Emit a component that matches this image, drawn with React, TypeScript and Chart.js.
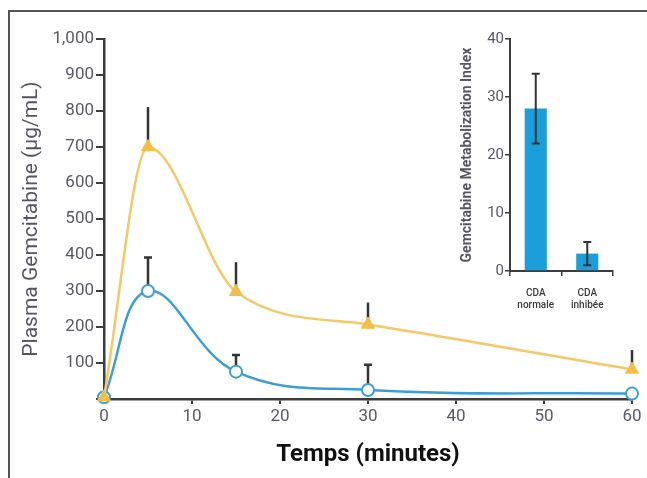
import React, { useEffect, useRef } from 'react';
import { Chart, registerables } from 'chart.js';

Chart.register(...registerables);

// ---- Data (main chart) ----
const times = [0, 5, 15, 30, 60];
const cdaInhibitedValues = [5, 700, 298, 207, 82];
const cdaInhibitedUpper: (number | null)[] = [null, 811, 380, 268, 136];
const cdaNormalValues = [5, 300, 76, 25, 15];
const cdaNormalUpper: (number | null)[] = [null, 393, 122, 95, null];
const xTickStep = 10;
const yTickStep = 100;

// ---- Data (inset) ----
const insetCategories = [['CDA', 'normale'], ['CDA', 'inhibée']];
const insetValues = [28, 3];
const insetLow = [22, 1];
const insetHigh = [34, 5];
const insetTickStep = 10;

const FONT = 'Roboto, "Liberation Sans", Arial, sans-serif';
const AXIS = '#3c3c3c';
const TICK_TEXT = '#585868';
const YELLOW_LINE = '#F6C865';
const YELLOW_MARK = '#F3BE46';
const BLUE = '#3A9EDB';
const BAR_BLUE = '#1A9FDA';
const ERR = '#333333';

function drawErrors(chart: any, front: boolean) {
  const ctx = chart.ctx;
  chart.data.datasets.forEach((ds: any, i: number) => {
    if (!ds.errHigh || !!ds.errFront !== front) return;
    const meta = chart.getDatasetMeta(i);
    const yScale = chart.scales[meta.yAxisID];
    meta.data.forEach((el: any, j: number) => {
      const hi = ds.errHigh[j];
      if (hi == null) return;
      const raw = ds.data[j];
      const v = typeof raw === 'number' ? raw : raw.y;
      const lo = ds.errLow ? ds.errLow[j] : v;
      const x = el.x;
      const yh = yScale.getPixelForValue(hi);
      const yl = yScale.getPixelForValue(lo);
      ctx.save();
      ctx.strokeStyle = ds.errColor || ERR;
      ctx.lineWidth = ds.errWidth || 2.5;
      ctx.lineCap = 'butt';
      ctx.beginPath();
      ctx.moveTo(x, yl);
      ctx.lineTo(x, yh);
      const cap = ds.errCap || 0;
      if (cap > 0) {
        ctx.moveTo(x - cap / 2, yh);
        ctx.lineTo(x + cap / 2, yh);
        if (ds.errLow) {
          ctx.moveTo(x - cap / 2, yl);
          ctx.lineTo(x + cap / 2, yl);
        }
      }
      ctx.stroke();
      ctx.restore();
    });
  });
}

const errorBarPlugin = {
  id: 'errorBars',
  beforeDatasetsDraw(chart: any) {
    drawErrors(chart, false);
  },
  afterDatasetsDraw(chart: any) {
    drawErrors(chart, true);
  },
};

export default function App() {
  const mainRef = useRef<HTMLCanvasElement>(null);
  const insetRef = useRef<HTMLCanvasElement>(null);

  useEffect(() => {
    const main = new Chart(mainRef.current!, {
      type: 'line',
      data: {
        datasets: [
          {
            label: 'CDA inhibée',
            data: times.map((t, i) => ({ x: t, y: cdaInhibitedValues[i] })),
            borderColor: YELLOW_LINE,
            backgroundColor: YELLOW_MARK,
            pointBackgroundColor: YELLOW_MARK,
            pointBorderColor: YELLOW_MARK,
            pointStyle: 'triangle',
            pointRadius: 7.5,
            pointBorderWidth: 1,
            borderWidth: 2.5,
            cubicInterpolationMode: 'monotone',
            clip: false,
            errHigh: cdaInhibitedUpper,
            errCap: 0,
            errWidth: 2.5,
          } as any,
          {
            label: 'CDA normale',
            data: times.map((t, i) => ({ x: t, y: cdaNormalValues[i] })),
            borderColor: BLUE,
            backgroundColor: '#ffffff',
            pointBackgroundColor: '#ffffff',
            pointBorderColor: BLUE,
            pointStyle: 'circle',
            pointRadius: 6,
            pointBorderWidth: 2,
            borderWidth: 2.5,
            tension: 0.4,
            clip: false,
            errHigh: cdaNormalUpper,
            errCap: 8,
            errWidth: 2.5,
          } as any,
        ],
      },
      options: {
        animation: false,
        responsive: false,
        events: [],
        layout: { padding: { left: 8, right: 15, top: 39, bottom: 0 } },
        plugins: { legend: { display: false }, tooltip: { enabled: false } },
        scales: {
          x: {
            type: 'linear',
            min: 0,
            max: 60,
            ticks: {
              stepSize: xTickStep,
              font: { family: FONT, size: 17 },
              color: TICK_TEXT,
              padding: 3,
              maxRotation: 0,
            },
            grid: { drawOnChartArea: false, tickLength: 5, color: AXIS, lineWidth: 2 },
            border: { color: AXIS, width: 2.5 },
            title: {
              display: true,
              text: 'Temps (minutes)',
              font: { family: FONT, size: 24, weight: 'bold' },
              color: '#111111',
              padding: { top: 0, bottom: 9 },
            },
            afterFit: (s: any) => {
              s.height = 79;
            },
          },
          y: {
            min: 0,
            max: 1000,
            ticks: {
              stepSize: yTickStep,
              font: { family: FONT, size: 17 },
              color: TICK_TEXT,
              padding: 2,
              callback: (v: any) => (v === 0 ? '' : Number(v).toLocaleString('en-US')),
            },
            grid: { drawOnChartArea: false, tickLength: 8, color: AXIS, lineWidth: 2 },
            border: { color: AXIS, width: 2.5 },
            title: {
              display: true,
              text: 'Plasma Gemcitabine (µg/mL)',
              font: { family: FONT, size: 21 },
              color: '#555560',
              padding: { top: 11, bottom: 0 },
            },
            afterFit: (s: any) => {
              s.width = 96;
            },
          },
        },
      } as any,
      plugins: [errorBarPlugin],
    });

    const inset = new Chart(insetRef.current!, {
      type: 'bar',
      data: {
        labels: insetCategories,
        datasets: [
          {
            data: insetValues,
            backgroundColor: BAR_BLUE,
            barPercentage: 0.43,
            categoryPercentage: 1,
            errLow: insetLow,
            errHigh: insetHigh,
            errCap: 8,
            errWidth: 2,
            errFront: true,
          } as any,
        ],
      },
      options: {
        animation: false,
        responsive: false,
        events: [],
        layout: { padding: { left: 0, right: 17, top: 19, bottom: 0 } },
        plugins: { legend: { display: false }, tooltip: { enabled: false } },
        scales: {
          x: {
            offset: true,
            ticks: {
              font: { family: FONT, size: 10, weight: '500' },
              color: '#3a3a3a',
              padding: 11,
              maxRotation: 0,
            },
            grid: { offset: true, drawOnChartArea: false, tickLength: 5, color: AXIS, lineWidth: 1.5 },
            border: { color: AXIS, width: 2 },
            afterFit: (s: any) => {
              s.height = 49;
            },
          },
          y: {
            min: 0,
            max: 40,
            ticks: {
              stepSize: insetTickStep,
              font: { family: FONT, size: 15 },
              color: TICK_TEXT,
              padding: 1,
            },
            grid: { drawOnChartArea: false, tickLength: 5, color: AXIS, lineWidth: 1.5 },
            border: { color: AXIS, width: 2 },
            title: {
              display: true,
              text: 'Gemcitabine Metabolization Index',
              font: { family: FONT, size: 14, weight: 'bold' },
              color: '#555560',
              padding: { top: 19, bottom: 0 },
            },
            afterFit: (s: any) => {
              s.width = 70;
            },
          },
        },
      } as any,
      plugins: [errorBarPlugin],
    });

    return () => {
      main.destroy();
      inset.destroy();
    };
  }, []);

  return (
    <div style={{ position: 'fixed', left: 0, top: 0, width: 647, height: 478, background: '#ffffff', overflow: 'hidden' }}>
      <div
        style={{
          position: 'absolute',
          left: 8,
          top: 10,
          width: 639,
          height: 468,
          borderTop: '2px solid #555555',
          borderLeft: '2px solid #555555',
          boxSizing: 'border-box',
        }}
      />
      <canvas ref={mainRef} width={647} height={478} style={{ position: 'absolute', left: 0, top: 0 }} />
      <canvas ref={insetRef} width={190} height={300} style={{ position: 'absolute', left: 440, top: 20 }} />
    </div>
  );
}
